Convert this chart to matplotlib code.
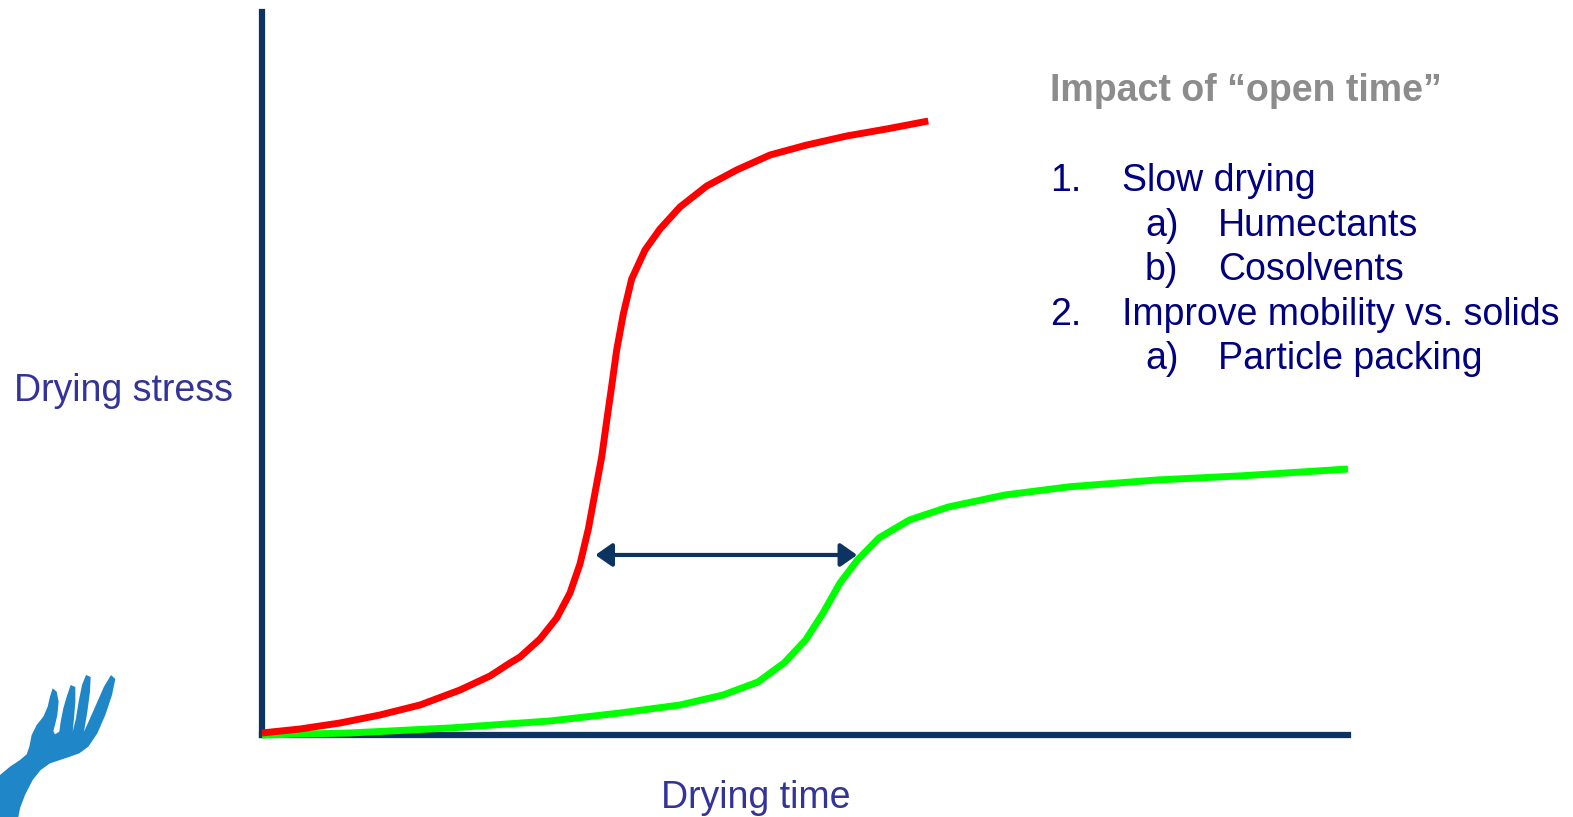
import matplotlib.pyplot as plt
from matplotlib.patches import Polygon

# drying stress vs drying time, arbitrary units (0-100 on both axes)
fast_time = [0, 3.50, 7.18, 10.87, 14.55, 18.23, 20.99, 22.84, 23.76, 25.60, 27.14,
             28.36, 29.28, 30.05, 30.66, 31.28, 31.74, 32.20, 32.66, 33.27, 34.04,
             35.27, 36.65, 38.49, 40.95, 43.71, 46.78, 50.16, 53.84, 57.52, 61.35]
fast_stress = [0.28, 0.83, 1.66, 2.77, 4.15, 6.22, 8.16, 9.96, 10.79, 13.28, 16.18,
               19.64, 23.65, 28.49, 33.47, 38.45, 43.43, 48.27, 53.25, 58.23, 63.07,
               67.08, 69.99, 73.03, 75.93, 78.15, 80.22, 81.60, 82.85, 83.82, 84.92]

slow_time = [0, 8.10, 17.31, 26.52, 32.97, 38.49, 42.45, 45.67, 48.07, 50.06, 51.66,
             53.22, 54.83, 56.81, 59.62, 63.21, 68.42, 74.40, 82.37, 90.33, 100]
slow_stress = [0, 0.28, 0.97, 1.94, 3.04, 4.15, 5.53, 7.33, 9.96, 13.14, 16.87,
               21.02, 24.20, 27.25, 29.74, 31.54, 33.20, 34.34, 35.27, 35.86, 36.79]

# open-time gap between the two curves
gap_start, gap_end, gap_level = 30.7, 54.8, 24.9

title = 'Impact of \u201copen time\u201d'
items = [('1.', 'Slow drying', 0),
         ('a)', 'Humectants', 1),
         ('b)', 'Cosolvents', 1),
         ('2.', 'Improve mobility vs. solids', 0),
         ('a)', 'Particle packing', 1)]

navy = '#0d3461'
W, H = 1573, 817
plt.rcParams['font.family'] = ['Liberation Sans', 'DejaVu Sans']

fig = plt.figure(figsize=(W / 100, H / 100), dpi=100)
ax = fig.add_axes([262 / W, 82 / H, 1086 / W, 723 / H])
ax.set_xlim(0, 100)
ax.set_ylim(0, 100)
for s in ['top', 'right']:
    ax.spines[s].set_visible(False)
for s in ['left', 'bottom']:
    ax.spines[s].set_color(navy)
    ax.spines[s].set_linewidth(4.5)
    ax.spines[s].set_capstyle('projecting')
ax.set_xticks([])
ax.set_yticks([])

ax.plot(slow_time, slow_stress, color='#00ff00', lw=5, zorder=3,
        clip_on=False, solid_capstyle='butt', solid_joinstyle='round')
ax.plot(fast_time, fast_stress, color='#ff0000', lw=5, zorder=4,
        clip_on=False, solid_capstyle='butt', solid_joinstyle='round')

ax.annotate('', xy=(gap_end, gap_level), xytext=(gap_start, gap_level),
            arrowprops=dict(arrowstyle='<|-|>,head_length=0.5,head_width=0.35',
                            color=navy, lw=3, mutation_scale=20,
                            shrinkA=0, shrinkB=0))

fig.text(123 / W, 1 - 391 / H, 'Drying stress', color='#333399', fontsize=27,
         ha='center', va='center')
fig.text(756 / W, 1 - 798 / H, 'Drying time', color='#333399', fontsize=27,
         ha='center', va='center')

fig.text(1050 / W, 1 - 91 / H, title, color='#8c8c8c', fontsize=27,
         fontweight='bold', ha='left', va='center')
y = 181
for num, label, level in items:
    xn = 1050 if level == 0 else 1145
    xl = 1122 if level == 0 else 1218
    fig.text(xn / W, 1 - y / H, num, color='#000080', fontsize=27, ha='left', va='center')
    fig.text(xl / W, 1 - y / H, label, color='#000080', fontsize=27, ha='left', va='center')
    y += 44.5

# hand logo, bottom-left corner (outline traced at 3x scale)
hand = [(0, 456), (0, 330), (30, 305), (60, 285), (80, 268),
        (88, 245), (95, 210), (110, 180), (130, 155), (143, 125), (150, 95),
        (158, 70), (170, 80), (176, 110), (172, 150), (165, 180), (160, 198),
        (165, 208), (178, 200),
        (182, 170), (190, 130), (200, 95), (212, 60), (226, 66), (226, 110),
        (222, 160), (218, 200),
        (228, 160), (236, 110), (246, 60), (258, 30), (272, 36), (270, 80),
        (262, 140), (252, 200),
        (268, 165), (290, 115), (312, 65), (333, 30), (346, 42), (336, 90),
        (316, 150), (292, 205), (265, 245), (238, 265), (210, 275), (180, 285),
        (150, 295), (122, 315), (98, 345), (75, 390), (60, 430), (55, 456)]
pts = [(zx / 3 / W, 1 - (665 + zy / 3) / H) for zx, zy in hand]
fig.add_artist(Polygon(pts, closed=True, facecolor='#1f86c7', edgecolor='none',
                       transform=fig.transFigure))

fig.savefig('out.png', dpi=100)
